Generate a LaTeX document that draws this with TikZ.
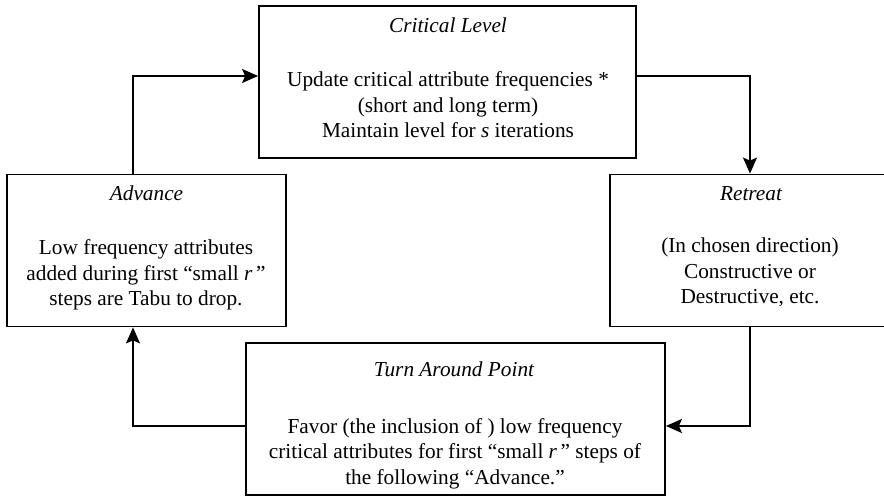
\documentclass[tikz,border=0pt]{standalone}
\usepackage{fontspec}
\setmainfont{Liberation Serif}[Ligatures=TeX]
\usetikzlibrary{arrows.meta}
\begin{document}
\begin{tikzpicture}[x=1pt,y=1pt,
  box/.style={draw, line width=1.8pt, inner sep=0pt, minimum height=152pt, minimum width=#1},
  ttl/.style={font=\rmfamily\fontsize{21.3}{25.3}\selectfont\itshape, inner sep=0pt, anchor=base},
  bdy/.style={font=\rmfamily\fontsize{21.3}{25.3}\selectfont, inner sep=0pt, anchor=north, align=center},
  arr/.style={line width=1.8pt, -{Stealth[length=16pt,width=14pt,inset=3pt]}}]
\useasboundingbox (0,0) rectangle (884,498);
\clip (0,0) rectangle (884,498);
% boxes
\node[box=377pt] (crit) at (447.5,416) {};
\node[box=279pt] (adv) at (146.5,247.5) {};
\node[box=279pt] (ret) at (749.5,247.5) {};
\node[box=419pt] (turn) at (455.5,79) {};
% texts
\node[ttl] (critT) at (448,465) {Critical Level};
\node[bdy] (critB) at (448,426.3) {Update critical attribute frequencies *\\(short and long term)\\Maintain level for \textit{s} iterations};
\node[ttl] (advT) at (146.5,297) {Advance};
\node[bdy] (advB) at (146,258.3) {Low frequency attributes\\added during first “small \textit{r}\,”\\steps are Tabu to drop.};
\node[ttl] (retT) at (751,297) {Retreat};
\node[bdy] (retB) at (750,260) {(In chosen direction)\\Constructive or\\Destructive, etc.};
\node[ttl] (turnT) at (454,121.5) {Turn Around Point};
\node[bdy] (turnB) at (455,79.6) {Favor (the inclusion of ) low frequency\\critical attributes for first “small \textit{r}\,” steps of\\the following “Advance.”};
% connectors
\coordinate (p1) at (133,422);
\coordinate (p2) at (750,422);
\coordinate (p3) at (750,72);
\coordinate (p4) at (133,72);
\draw[arr] (adv.north -| p1) -- (p1) -- (crit.west |- p1);
\draw[arr] (crit.east |- p2) -- (p2) -- (ret.north -| p2);
\draw[arr] (ret.south -| p3) -- (p3) -- (turn.east |- p3);
\draw[arr] (turn.west |- p4) -- (p4) -- (adv.south -| p4);
\end{tikzpicture}
\end{document}
